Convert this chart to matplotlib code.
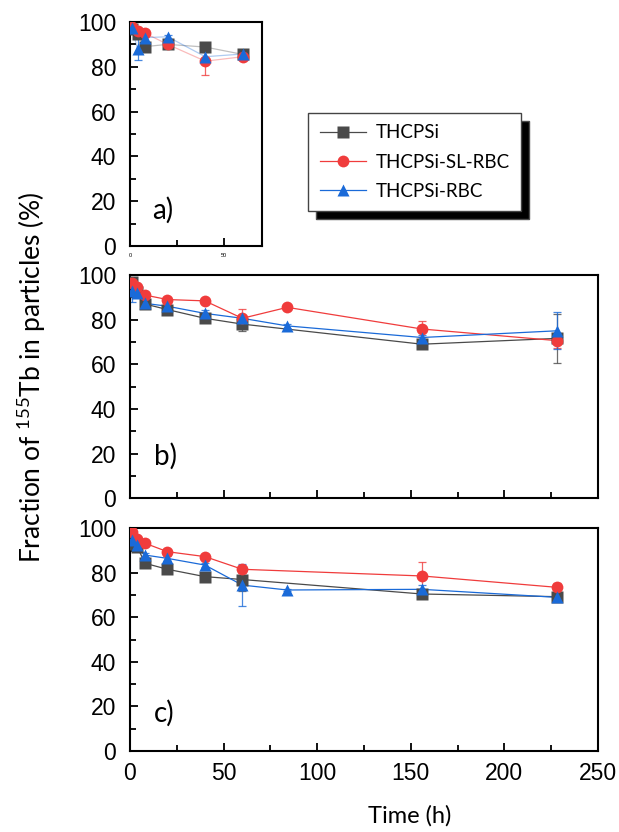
import matplotlib
matplotlib.use("Agg")
import matplotlib.pyplot as plt
from matplotlib.ticker import MultipleLocator

plt.rcParams['font.family'] = ['Liberation Sans', 'DejaVu Sans']
plt.rcParams['mathtext.fontset'] = 'custom'
plt.rcParams['mathtext.rm'] = 'Lato'

labels = ["THCPSi", "THCPSi-SL-RBC", "THCPSi-RBC"]
colors = ["#4a4a4a", "#f03c3c", "#1a6ad8"]
markers = ["s", "o", "^"]

# panel a)
a_t = [[1, 4, 8, 20, 40, 60],
       [1, 4, 8, 20, 40, 60],
       [1, 4, 8, 20, 40, 60]]
a_y = [[97, 94.5, 89, 90, 88.8, 85.5],
       [97.7, 96, 95, 90, 82.5, 84.5],
       [97.5, 88, 93, 93.4, 84.5, 85.7]]
a_e = [[1, 1, 1, 1, 1, 1],
       [1, 1, 1, 1.5, 6, 1.5],
       [1, 5, 2, 1, 2, 1.5]]

# panel b)
b_t = [[1, 4, 8, 20, 40, 60, 156, 228],
       [1, 4, 8, 20, 40, 60, 84, 156, 228],
       [1, 4, 8, 20, 40, 60, 84, 156, 228]]
b_y = [[97, 92.5, 87, 84.5, 80.6, 78, 69, 71.6],
       [96.3, 94.5, 91, 89, 88.4, 80.6, 85.5, 75.8, 70.6],
       [93, 92, 87.3, 86, 82.8, 80.6, 77.2, 72, 75]]
b_e = [[1, 1, 1, 1, 1, 3, 1, 11],
       [1, 1, 1, 1, 1, 4, 1, 3.5, 3.5],
       [5, 1, 1, 1, 1.5, 1, 1, 1, 8.3]]

# panel c)
c_t = [[1, 4, 8, 20, 40, 60, 156, 228],
       [1, 4, 8, 20, 40, 60, 156, 228],
       [1, 4, 8, 20, 40, 60, 84, 156, 228]]
c_y = [[93, 91.5, 84.3, 81.6, 78.3, 77, 70.5, 69.3],
       [98.5, 95, 93.3, 89.5, 87.3, 81.6, 78.6, 73.5],
       [94.8, 92.5, 88, 86.5, 83.5, 74.5, 72.3, 72.6, 69]]
c_e = [[2, 1, 1, 1, 1, 5, 1, 1],
       [1, 1, 1, 1, 1, 1.5, 6.4, 2],
       [2, 1, 1, 1, 1, 9.4, 0.5, 2, 1]]

fig = plt.figure(figsize=(6.19, 8.32), dpi=100)
ax_a = fig.add_axes([0.210, 0.7043, 0.213, 0.2693])
ax_b = fig.add_axes([0.210, 0.4011, 0.756, 0.2684])
ax_c = fig.add_axes([0.210, 0.0974, 0.756, 0.2676])


def draw(ax, ts, ys, es, line_alpha=1.0):
    handles = []
    for i in range(3):
        ax.errorbar(ts[i], ys[i], yerr=es[i], fmt='none', ecolor=colors[i],
                    elinewidth=0.9, capsize=3, capthick=0.9, alpha=0.8, zorder=2)
        ax.plot(ts[i], ys[i], '-', color=colors[i], lw=0.9, alpha=line_alpha, zorder=3)
        ax.plot(ts[i], ys[i], markers[i], color=colors[i], ms=8.5, mec='none', zorder=4)
        h, = ax.plot([], [], '-', color=colors[i], lw=0.9, marker=markers[i],
                     ms=8.5, mec='none')
        handles.append(h)
    ax.set_ylim(0, 100)
    ax.yaxis.set_major_locator(MultipleLocator(20))
    ax.yaxis.set_minor_locator(MultipleLocator(10))
    ax.xaxis.set_major_locator(MultipleLocator(50))
    ax.xaxis.set_minor_locator(MultipleLocator(25))
    ax.tick_params(which='both', direction='in', top=False, right=False,
                   labelsize=16.5, width=1.3)
    ax.tick_params(which='major', length=6)
    ax.tick_params(which='minor', length=4)
    ax.tick_params(axis='y', pad=10)
    ax.tick_params(axis='x', pad=8)
    for s in ax.spines.values():
        s.set_linewidth(1.5)
    return handles


handles = draw(ax_a, a_t, a_y, a_e, line_alpha=0.35)
ax_a.set_xlim(0, 70)
ax_a.tick_params(axis='x', labelsize=4, pad=5)
ax_a.text(12, 12, "a)", fontsize=20, family='Lato')

draw(ax_b, b_t, b_y, b_e)
ax_b.set_xlim(0, 250)
ax_b.tick_params(axis='x', labelbottom=False)
ax_b.text(13, 15, "b)", fontsize=20, family='Lato')

draw(ax_c, c_t, c_y, c_e)
ax_c.set_xlim(0, 250)
ax_c.text(13, 13, "c)", fontsize=20, family='Lato')

fig.text(0.662, 0.02, "Time (h)", ha='center', va='center', fontsize=17,
         family='Lato')
fig.text(0.05, 0.547, r"Fraction of $^{155}$Tb in particles (%)", rotation=90,
         ha='center', va='center', fontsize=19, family='Lato')

leg = fig.legend(handles, labels, loc='upper left', bbox_to_anchor=(0.498, 0.864),
                 borderaxespad=0, prop={'family': 'Lato', 'size': 13.5},
                 handlelength=2.5, handletextpad=0.5,
                 labelspacing=0.65, borderpad=0.6, fancybox=False,
                 shadow={'ox': 5.5, 'oy': -5.5, 'facecolor': 'black', 'alpha': 1})
leg.get_frame().set_edgecolor('#444444')
leg.get_frame().set_linewidth(1.0)

fig.savefig("out.png", dpi=100)
